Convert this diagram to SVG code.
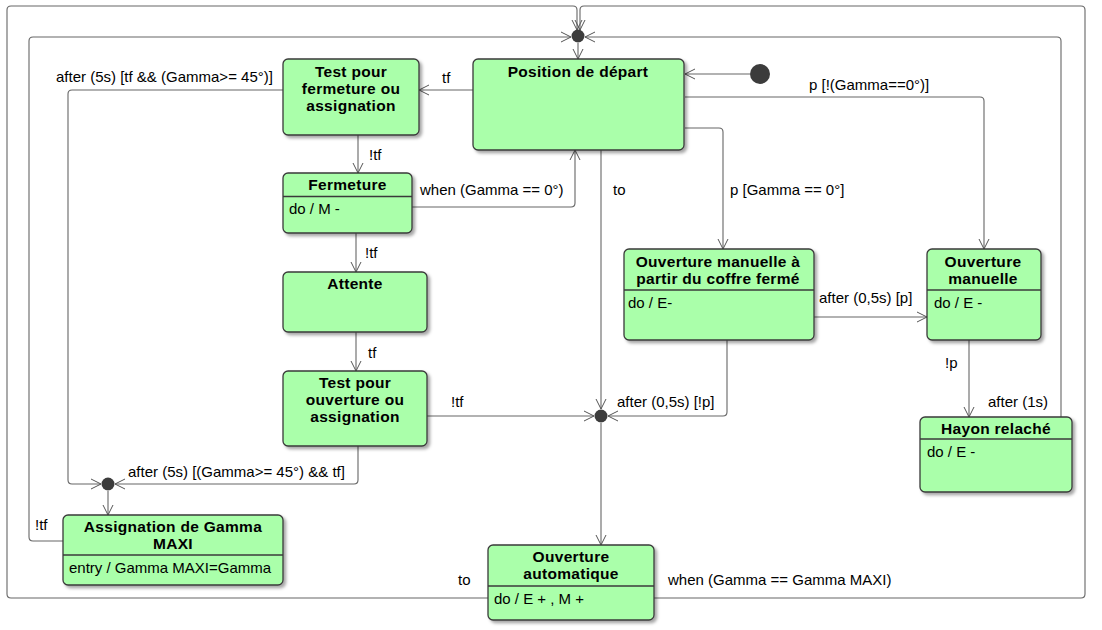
<svg xmlns="http://www.w3.org/2000/svg" width="1102" height="630" viewBox="0 0 1102 630">
<defs>
<filter id="sh" x="-10%" y="-10%" width="125%" height="130%">
<feDropShadow dx="2.5" dy="2.5" stdDeviation="1.5" flood-color="#000" flood-opacity="0.35"/>
</filter>
<marker id="ar" viewBox="0 0 12 12" refX="11" refY="6" markerWidth="12" markerHeight="12" markerUnits="userSpaceOnUse" orient="auto">
<path d="M1,1 L11,6 L1,11" fill="none" stroke="#555" stroke-width="1"/>
</marker>
</defs>
<style>
.st{fill:#AAFFAA;stroke:#3a3a3a;stroke-width:1.3;filter:url(#sh)}
.sep{stroke:#3a3a3a;stroke-width:1.3}
.t{font-family:"Liberation Sans",Arial,sans-serif;font-size:15.5px;font-weight:bold;fill:#000;text-anchor:middle;letter-spacing:0.3px}
.b{font-family:"Liberation Sans",Arial,sans-serif;font-size:15px;fill:#000}
.l{font-family:"Liberation Sans",Arial,sans-serif;font-size:15px;fill:#000}
.c{fill:none;stroke:#666;stroke-width:1.1;marker-end:url(#ar)}
.cn{fill:none;stroke:#666;stroke-width:1.1}
.dot{fill:#3c3c3c}
</style>
<rect width="1102" height="630" fill="#fff"/>

<g id="connectors">
<path class="c" d="M488,598 H11 Q7,598 7,594 V10 Q7,6 11,6 H573 Q577,6 577,10 V30"/>
<path class="c" d="M654,598 H1081 Q1085,598 1085,594 V10 Q1085,6 1081,6 H584 Q580,6 580,10 V30"/>
<path class="c" d="M63,541 H33 Q29,541 29,537 V41 Q29,37 33,37 H571"/>
<path class="c" d="M1061,417 V41 Q1061,37 1057,37 H585"/>
<path class="c" d="M578,43 V59"/>
<path class="c" d="M750,74 H685"/>
<path class="c" d="M473,90 H419"/>
<path class="c" d="M685,97 H980 Q984,97 984,101 V249"/>
<path class="c" d="M685,128 H719 Q723,128 723,132 V249"/>
<path class="c" d="M601,150 V409"/>
<path class="c" d="M412,207 H571 Q575,207 575,203 V150"/>
<path class="c" d="M358,135 V173"/>
<path class="c" d="M356,233 V272"/>
<path class="c" d="M356,332 V371"/>
<path class="c" d="M427,416 H594"/>
<path class="c" d="M727,340 V412 Q727,416 723,416 H608"/>
<path class="c" d="M601,423 V545"/>
<path class="c" d="M814,317 H927"/>
<path class="c" d="M969,340 V417"/>
<path class="c" d="M283,90 H72 Q68,90 68,94 V480 Q68,484 72,484 H101"/>
<path class="c" d="M358,446 V480 Q358,484 354,484 H115"/>
<path class="c" d="M108,491 V515"/>
<circle class="dot" cx="578" cy="36" r="6.5"/>
<circle class="dot" cx="601" cy="416" r="6.5"/>
<circle class="dot" cx="108" cy="484" r="6.5"/>
<text class="l" x="56" y="82">after (5s) [tf &amp;&amp; (Gamma&gt;= 45°)]</text>
<text class="l" x="442" y="83">tf</text>
<text class="l" x="369" y="160">!tf</text>
<text class="l" x="420" y="195">when (Gamma == 0°)</text>
<text class="l" x="613" y="195">to</text>
<text class="l" x="730" y="195">p [Gamma == 0°]</text>
<text class="l" x="809" y="90">p [!(Gamma==0°)]</text>
<text class="l" x="365" y="258">!tf</text>
<text class="l" x="368" y="358">tf</text>
<text class="l" x="451" y="407">!tf</text>
<text class="l" x="617" y="407">after (0,5s) [!p]</text>
<text class="l" x="819" y="303">after (0,5s) [p]</text>
<text class="l" x="945" y="368">!p</text>
<text class="l" x="988" y="407">after (1s)</text>
<text class="l" x="128" y="477">after (5s) [(Gamma&gt;= 45°) &amp;&amp; tf]</text>
<text class="l" x="35" y="530">!tf</text>
<text class="l" x="458" y="585">to</text>
<text class="l" x="668" y="585">when (Gamma == Gamma MAXI)</text>
</g>

<g id="initial">
<circle class="dot" cx="760" cy="74" r="10"/>
</g>

<g id="position-depart">
<rect class="st" x="473" y="59" width="211" height="91" rx="5"/>
<text class="t" x="578" y="77">Position de départ</text>
</g>

<g id="test-fermeture">
<rect class="st" x="283" y="59" width="136" height="76" rx="5"/>
<text class="t" x="351" y="77">Test pour</text>
<text class="t" x="351" y="94">fermeture ou</text>
<text class="t" x="351" y="111">assignation</text>
</g>

<g id="fermeture">
<rect class="st" x="283" y="173" width="129" height="60" rx="5"/>
<line class="sep" x1="283" y1="196.5" x2="412" y2="196.5"/>
<text class="t" x="347.5" y="190">Fermeture</text>
<text class="b" x="289" y="214">do / M -</text>
</g>

<g id="attente">
<rect class="st" x="283" y="272" width="144" height="60" rx="5"/>
<text class="t" x="355" y="289">Attente</text>
</g>

<g id="test-ouverture">
<rect class="st" x="283" y="371" width="144" height="75" rx="5"/>
<text class="t" x="355" y="388">Test pour</text>
<text class="t" x="355" y="405">ouverture ou</text>
<text class="t" x="355" y="422">assignation</text>
</g>

<g id="assignation">
<rect class="st" x="63" y="515" width="220" height="70" rx="5"/>
<line class="sep" x1="63" y1="555" x2="283" y2="555"/>
<text class="t" x="173" y="532">Assignation de Gamma</text>
<text class="t" x="173" y="549">MAXI</text>
<text class="b" x="69" y="573">entry / Gamma MAXI=Gamma</text>
</g>

<g id="ouverture-manuelle-coffre-ferme">
<rect class="st" x="624" y="249" width="190" height="91" rx="5"/>
<line class="sep" x1="624" y1="290" x2="814" y2="290"/>
<text class="t" x="718" y="267">Ouverture manuelle à</text>
<text class="t" x="718" y="284">partir du coffre fermé</text>
<text class="b" x="628" y="308">do / E-</text>
</g>

<g id="ouverture-manuelle">
<rect class="st" x="927" y="249" width="114" height="91" rx="5"/>
<line class="sep" x1="927" y1="290" x2="1041" y2="290"/>
<text class="t" x="983" y="267">Ouverture</text>
<text class="t" x="983" y="284">manuelle</text>
<text class="b" x="934" y="308">do / E -</text>
</g>

<g id="hayon-relache">
<rect class="st" x="920" y="417" width="152" height="75" rx="5"/>
<line class="sep" x1="920" y1="439" x2="1072" y2="439"/>
<text class="t" x="996" y="434">Hayon relaché</text>
<text class="b" x="927" y="457">do / E -</text>
</g>

<g id="ouverture-automatique">
<rect class="st" x="488" y="545" width="166" height="75" rx="5"/>
<line class="sep" x1="488" y1="586" x2="654" y2="586"/>
<text class="t" x="571" y="562">Ouverture</text>
<text class="t" x="571" y="579">automatique</text>
<text class="b" x="494" y="604">do / E + , M +</text>
</g>
</svg>
